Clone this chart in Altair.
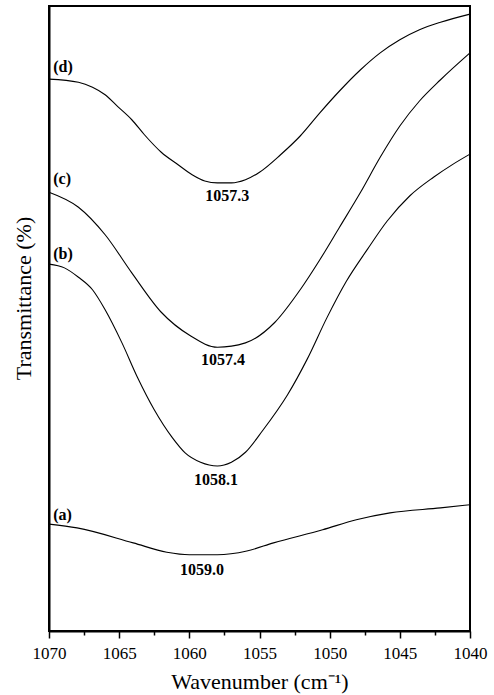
import altair as alt
import pandas as pd

# ---- data ----
wn_a = [1070.0, 1068.0, 1064.0, 1061.6, 1060.0, 1058.0, 1055.9, 1054.0, 1050.5, 1048.1, 1045.7, 1042.1, 1040.0]
tr_a = [17.1, 16.5, 14.1, 12.6, 12.2, 12.2, 12.8, 14.1, 16.2, 17.8, 18.9, 19.7, 20.2]

wn_b = [1070.0, 1068.9, 1067.9, 1066.9, 1066.0, 1064.8, 1063.7, 1062.5, 1061.2, 1060.3, 1059.2, 1058.0,
        1057.0, 1056.0, 1054.8, 1053.0, 1051.6, 1050.2, 1048.8, 1047.3, 1045.9, 1044.3, 1042.6, 1041.2, 1040.0]
tr_b = [58.7, 58.1, 56.6, 54.6, 51.4, 46.1, 40.6, 35.4, 30.9, 28.5, 27.0, 26.4,
        27.0, 28.6, 32.0, 37.8, 43.5, 50.1, 56.0, 61.1, 65.6, 69.6, 72.6, 74.7, 76.3]

wn_c = [1070.0, 1067.9, 1066.0, 1064.1, 1062.0, 1059.9, 1058.0, 1056.0, 1053.9, 1052.1,
        1050.7, 1049.3, 1047.8, 1046.4, 1045.0, 1043.6, 1042.1, 1040.0]
tr_c = [70.2, 67.8, 63.4, 57.3, 51.0, 47.2, 45.4, 46.1, 49.4, 54.6,
        59.4, 64.6, 70.2, 75.8, 80.8, 84.8, 88.2, 92.5]

wn_d = [1070.0, 1067.9, 1066.9, 1066.0, 1065.1, 1064.1, 1063.2, 1062.0, 1060.8, 1059.8, 1058.9, 1058.0,
        1057.0, 1056.0, 1055.0, 1053.5, 1052.1, 1050.7, 1049.3, 1047.8, 1046.4, 1045.0, 1043.6, 1042.1, 1040.0]
tr_d = [88.3, 87.8, 87.0, 85.8, 83.9, 81.8, 79.4, 76.6, 74.6, 73.0, 72.0, 71.7,
        71.7, 72.2, 73.4, 76.2, 79.2, 82.9, 86.4, 89.8, 92.5, 94.6, 96.2, 97.4, 98.7]

series_names = ["(a)", "(b)", "(c)", "(d)"]
series_label_x = [1069.7, 1069.7, 1069.7, 1069.7]
series_label_y = [18.6, 60.3, 72.3, 90.2]

peak_text = ["1059.0", "1058.1", "1057.4", "1057.3"]
peak_x = [1059.1, 1058.1, 1057.6, 1057.3]
peak_y = [9.8, 24.2, 43.4, 69.6]

major_ticks = [1070, 1065, 1060, 1055, 1050, 1045, 1040]
minor_ticks = [1067.5, 1062.5, 1057.5, 1052.5, 1047.5, 1042.5]

# ---- tables ----
rows = []
for name, xs, ys in [("a", wn_a, tr_a), ("b", wn_b, tr_b), ("c", wn_c, tr_c), ("d", wn_d, tr_d)]:
    for i, (x, y) in enumerate(zip(xs, ys)):
        rows.append({"series": name, "order": i, "wn": x, "tr": y})
lines_df = pd.DataFrame(rows)
names_df = pd.DataFrame({"text": series_names, "wn": series_label_x, "tr": series_label_y})
peaks_df = pd.DataFrame({"text": peak_text, "wn": peak_x, "tr": peak_y})

FONT = "Liberation Serif"
xscale = alt.Scale(domain=[1070, 1040], nice=False, zero=False)
yscale = alt.Scale(domain=[0, 100], nice=False, zero=False)

x_axis = alt.Axis(values=major_ticks, title="Wavenumber (cm⁻¹)", format="d",
                  tickSize=7, tickWidth=1.5, tickColor="black",
                  domainColor="black", domainWidth=2,
                  labelFont=FONT, labelFontSize=17, labelColor="black", labelPadding=7,
                  labelFlush=False, grid=False,
                  titleFont=FONT, titleFontSize=22, titleFontWeight="normal", titleColor="black",
                  titlePadding=10)
y_axis = alt.Axis(title="Transmittance (%)", labels=False, ticks=False, grid=False,
                  domainColor="black", domainWidth=2,
                  titleFont=FONT, titleFontSize=22, titleFontWeight="normal", titleColor="black",
                  titleAngle=-90, titleAlign="center", titleBaseline="alphabetic",
                  titleX=-19, titleY=292)

lines = alt.Chart(lines_df).mark_line(color="black", strokeWidth=1.1, interpolate="monotone").encode(
    x=alt.X("wn:Q", scale=xscale, axis=x_axis),
    y=alt.Y("tr:Q", scale=yscale, axis=y_axis),
    detail="series:N",
    order="order:Q",
)

minor = alt.Chart(pd.DataFrame({"wn": minor_ticks})).mark_point(opacity=0).encode(
    x=alt.X("wn:Q", scale=xscale,
            axis=alt.Axis(values=minor_ticks, orient="bottom", labels=False, domain=False,
                          grid=False, title=None, tickSize=4, tickWidth=1.5, tickColor="black")),
)

names = alt.Chart(names_df).mark_text(font=FONT, fontSize=16, fontWeight="bold",
                                      align="left", baseline="middle", color="black").encode(
    x=alt.X("wn:Q", scale=xscale, axis=None),
    y=alt.Y("tr:Q", scale=yscale, axis=y_axis),
    text="text:N")

peaks = alt.Chart(peaks_df).mark_text(font=FONT, fontSize=16, fontWeight="bold",
                                      align="center", baseline="middle", color="black").encode(
    x=alt.X("wn:Q", scale=xscale, axis=None),
    y=alt.Y("tr:Q", scale=yscale, axis=y_axis),
    text="text:N")

chart = alt.layer(lines, minor, names, peaks).resolve_axis(x="independent").properties(
    width=421, height=625,
    autosize=alt.AutoSizeParams(type="none"),
    padding={"left": 49, "top": 6, "right": 24, "bottom": 64},
    background="white",
).configure_view(stroke="black", strokeWidth=2)

chart.save("out.html", embed_options={"renderer": "svg", "actions": False})
